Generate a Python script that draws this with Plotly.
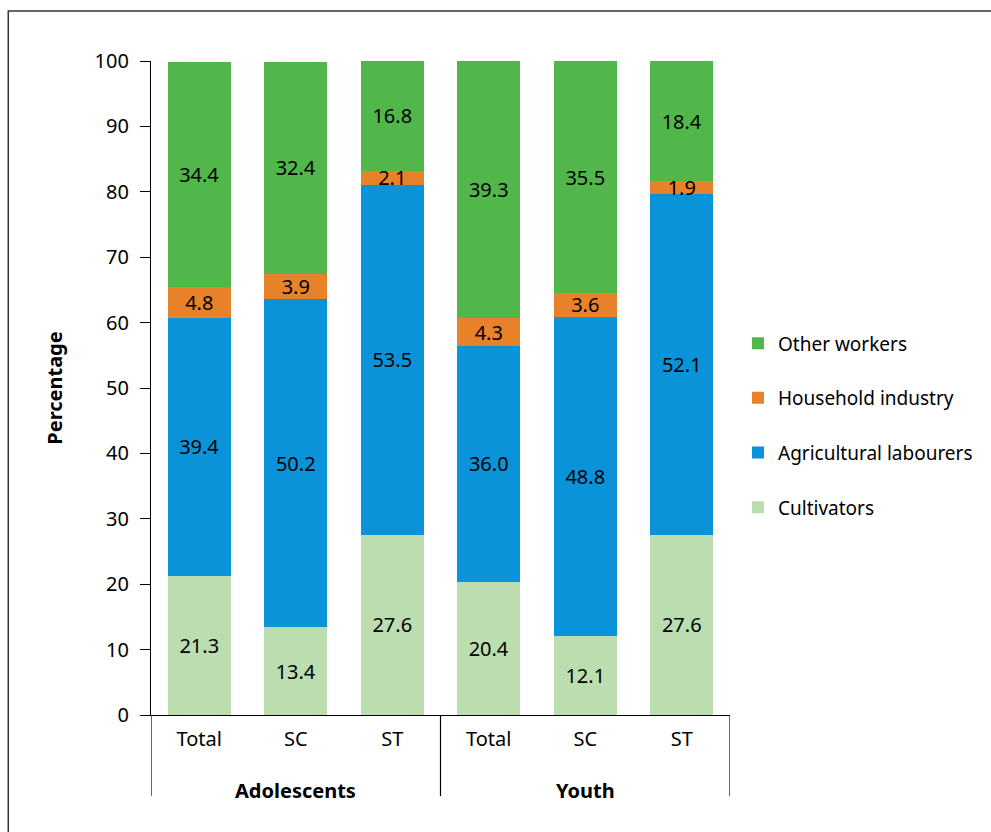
import plotly.graph_objects as go

groups = ["Adolescents", "Youth"]
cats = ["Total", "SC", "ST", "Total", "SC", "ST"]
tick_vals = [0, 1, 2, 3, 4, 5]
yticks = [0, 10, 20, 30, 40, 50, 60, 70, 80, 90, 100]

cultivators = [21.3, 13.4, 27.6, 20.4, 12.1, 27.6]
agri_labourers = [39.4, 50.2, 53.5, 36.0, 48.8, 52.1]
household = [4.8, 3.9, 2.1, 4.3, 3.6, 1.9]
other_workers = [34.4, 32.4, 16.8, 39.3, 35.5, 18.4]

series = [
    ("Cultivators", cultivators, "#BBDDAF"),
    ("Agricultural labourers", agri_labourers, "#0A93D8"),
    ("Household industry", household, "#E8822A"),
    ("Other workers", other_workers, "#52B74B"),
]

FONT = "Noto Sans"
FS = 20

fig = go.Figure()
for i, (name, vals, col) in enumerate(series):
    fig.add_trace(go.Bar(
        x=tick_vals, y=vals, name=name, width=0.65,
        marker=dict(color=col, line=dict(width=0)),
        text=["%.1f" % v for v in vals], textposition="inside",
        insidetextanchor="middle", constraintext="none",
        textfont=dict(color="black", size=FS, family=FONT),
        legendgroup=name, legendrank=len(series) - i, hoverinfo="skip",
    ))

n_per_group = len(cats) // len(groups)
annotations = []
shapes = []
for gi, g in enumerate(groups):
    annotations.append(dict(
        x=gi * n_per_group + (n_per_group - 1) / 2, xref="x",
        y=-0.1147, yref="paper", yanchor="middle", showarrow=False,
        text="<b>%s</b>" % g, font=dict(size=FS, family=FONT, color="black")))
for k in range(len(groups) + 1):
    xv = k * n_per_group - 0.5
    shapes.append(dict(type="line", xref="x", yref="paper", x0=xv, x1=xv,
                       y0=0, y1=-0.124, line=dict(color="black", width=1.2)))

shapes.append(dict(type="rect", xref="paper", yref="paper",
                   x0=-0.2465, x1=2, y0=-1, y1=1.0765,
                   line=dict(color="#333333", width=1.5),
                   fillcolor="rgba(0,0,0,0)", layer="below"))

fig.update_layout(
    barmode="stack",
    width=991, height=832,
    margin=dict(l=151, r=261, t=61, b=117, autoexpand=False),
    plot_bgcolor="white", paper_bgcolor="white",
    font=dict(family=FONT, size=FS, color="black"),
    uniformtext=dict(mode="show", minsize=FS),
    showlegend=True,
    legend=dict(x=1.0138, y=0.443, xanchor="left", yanchor="middle",
                traceorder="grouped", tracegroupgap=27,
                font=dict(size=19, family=FONT)),
    xaxis=dict(range=[-0.5, 5.5], tickvals=tick_vals, ticktext=cats,
               showline=True, linecolor="black", linewidth=1.2,
               ticks="", ticklabelstandoff=6, showgrid=False, zeroline=False,
               tickfont=dict(size=FS, family=FONT)),
    yaxis=dict(range=[0, 100], tickvals=yticks, showline=True, linecolor="black", linewidth=1.2,
               ticks="outside", ticklen=10, tickcolor="black", showgrid=False,
               ticklabelstandoff=7,
               zeroline=False, tickfont=dict(size=FS, family=FONT),
               title=dict(text="<b>Percentage</b>", standoff=26, font=dict(size=FS, family=FONT))),
    annotations=annotations,
    shapes=shapes,
)

fig.write_html("out.html", config={"displayModeBar": False},
               post_script="document.body.style.margin='0';")
